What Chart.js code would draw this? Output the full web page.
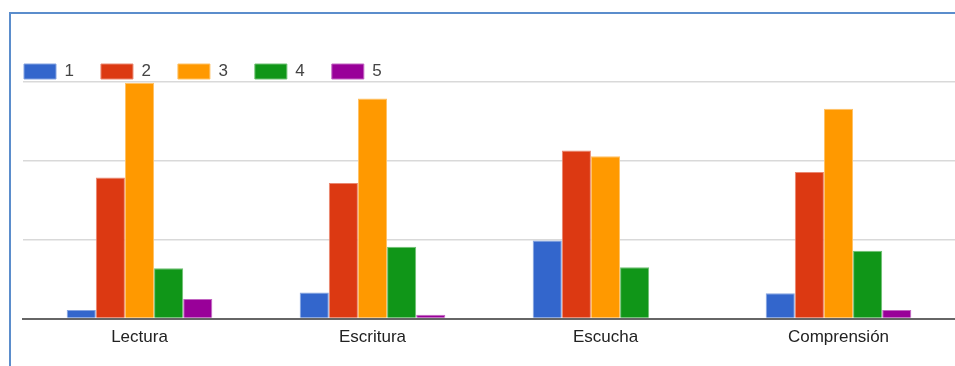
<!DOCTYPE html>
<html>
<head>
<meta charset="utf-8">
<title>Lectura, Escritura, Escucha, Comprensión</title>
<script src="https://cdn.jsdelivr.net/npm/chart.js@4"></script>
<style>
    body { margin: 0; background: #fff; }
    #wrap { position: relative; width: 955px; height: 366px; overflow: hidden; }
    #chart { position: absolute; left: -3px; top: 0; }
    /* blue frame around the panel, top and left edges */
    #frame {
        position: absolute; left: 9px; top: 12px; width: 990px; height: 400px;
        border-top: 2px solid #5b8dcc; border-left: 2px solid #5b8dcc;
        pointer-events: none;
    }
</style>
</head>
<body>
<div id="wrap">
    <canvas id="chart" width="958" height="366"></canvas>
    <div id="frame"></div>
</div>
<script>
// categories and the five answer levels
var categories = ['Lectura', 'Escritura', 'Escucha', 'Comprensión'];
var levels = ['1', '2', '3', '4', '5'];

// values per level, one entry per category
var level1 = [1.1, 3.3, 9.9, 3.2];
var level2 = [17.9, 17.2, 21.3, 18.6];
var level3 = [29.9, 27.9, 20.6, 26.6];
var level4 = [6.4, 9.1, 6.5, 8.6];
var level5 = [2.5, 0.5, 0, 1.1];

var fills = ['#3366cc', '#dc3912', '#ff9900', '#109618', '#990099'];
var edges = ['#85a3e0', '#ea8871', '#ffc266', '#70c074', '#c266c2'];

var series = [level1, level2, level3, level4, level5];

var datasets = series.map(function(values, i) {
    return {
        label: levels[i],
        data: values,
        backgroundColor: fills[i],
        borderColor: edges[i],
        borderWidth: 1,
        categoryPercentage: 0.625,
        barPercentage: 1
    };
});

// keep the legend short so the plot starts right under it
var legendHeight = {
    id: 'legendHeight',
    beforeInit: function(chart) {
        var fit = chart.legend.fit;
        chart.legend.fit = function() {
            fit.bind(chart.legend)();
            this.height = 46;
        };
    }
};

var ctx = document.getElementById('chart');
new Chart(ctx, {
    type: 'bar',
    data: { labels: categories, datasets: datasets },
    options: {
        responsive: false,
        animation: false,
        layout: { padding: { top: 36, bottom: 9, left: 0, right: 0 } },
        plugins: {
            legend: {
                position: 'top',
                align: 'start',
                labels: {
                    boxWidth: 32,
                    boxHeight: 15,
                    padding: 27,
                    color: '#444',
                    font: { family: 'Liberation Sans', size: 17 }
                }
            },
            tooltip: { enabled: false }
        },
        scales: {
            x: {
                grid: { display: false, drawTicks: false },
                border: { display: true, color: '#666', width: 2 },
                ticks: {
                    padding: 9,
                    color: '#222',
                    font: { family: 'Liberation Sans', size: 17 }
                }
            },
            y: {
                min: 0,
                max: 30,
                afterFit: function(scale) { scale.width = 26; },
                grid: { color: '#d9d9d9', lineWidth: 1.5, drawTicks: false },
                border: { display: false },
                ticks: { display: false, stepSize: 10 }
            }
        }
    },
    plugins: [legendHeight]
});
</script>
</body>
</html>
